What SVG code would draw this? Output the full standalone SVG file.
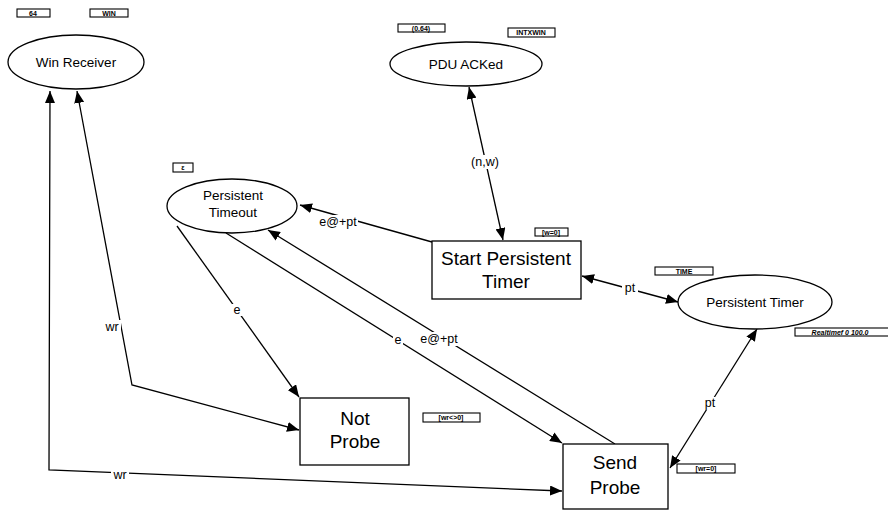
<svg xmlns="http://www.w3.org/2000/svg" width="888" height="511" viewBox="0 0 888 511">
  <style>
    .place { fill: #fff; stroke: #000; stroke-width: 1.3; }
    .trans { fill: #fff; stroke: #000; stroke-width: 1.3; }
    .arc { fill: none; stroke: #000; stroke-width: 1.3; }
    .ptext { font-family: "Liberation Sans", Arial, sans-serif; font-size: 13.5px; fill: #000; text-anchor: middle; }
    .ttext { font-family: "Liberation Sans", Arial, sans-serif; font-size: 19px; fill: #000; text-anchor: middle; }
    .alabel { font-family: "Liberation Sans", Arial, sans-serif; font-size: 12.5px; fill: #000; text-anchor: middle; }
    .lbg { fill: #fff; stroke: none; }
    .tag { fill: #fff; stroke: #000; stroke-width: 1.1; }
    .tagtext { font-family: "Liberation Sans", Arial, sans-serif; font-size: 7px; font-weight: bold; fill: #000; text-anchor: middle; }
  </style>
  <defs>
    <marker id="head" viewBox="0 0 12 10" refX="12" refY="5" markerWidth="12" markerHeight="10" markerUnits="userSpaceOnUse" orient="auto-start-reverse">
      <path d="M0,0 L12,5 L0,10 Z" fill="#000"/>
    </marker>
  </defs>

  <rect width="888" height="511" fill="#fff"/>

  <!-- connectors -->
  <g id="arcs">
    <path class="arc" d="M77,91 L132,385 L299,430" marker-start="url(#head)" marker-end="url(#head)"/>
    <path class="arc" d="M50,91 L49,470 L562,491" marker-start="url(#head)" marker-end="url(#head)"/>
    <path class="arc" d="M503,240 L469,87" marker-start="url(#head)" marker-end="url(#head)"/>
    <path class="arc" d="M432,242 L300,205" marker-end="url(#head)"/>
    <path class="arc" d="M582,276 L678,302" marker-start="url(#head)" marker-end="url(#head)"/>
    <path class="arc" d="M177,226 L299,397" marker-end="url(#head)"/>
    <path class="arc" d="M226,233 L562,443" marker-end="url(#head)"/>
    <path class="arc" d="M615,444 L268,230" marker-end="url(#head)"/>
    <path class="arc" d="M670,468 L757,329" marker-start="url(#head)" marker-end="url(#head)"/>

    <!-- arc inscriptions -->
    <rect class="lbg" x="103" y="320" width="18" height="13"/>
    <text class="alabel" x="112" y="331">wr</text>
    <rect class="lbg" x="111" y="468" width="18" height="13"/>
    <text class="alabel" x="120" y="479">wr</text>
    <rect class="lbg" x="469" y="155" width="32" height="14"/>
    <text class="alabel" x="485" y="166">(n,w)</text>
    <rect class="lbg" x="318" y="215" width="40" height="14"/>
    <text class="alabel" x="338" y="226">e@+pt</text>
    <rect class="lbg" x="622" y="282" width="16" height="13"/>
    <text class="alabel" x="630" y="292">pt</text>
    <rect class="lbg" x="232" y="304" width="10" height="12"/>
    <text class="alabel" x="237" y="314">e</text>
    <rect class="lbg" x="393" y="334" width="10" height="12"/>
    <text class="alabel" x="398" y="344">e</text>
    <rect class="lbg" x="418" y="332" width="42" height="14"/>
    <text class="alabel" x="439" y="343">e@+pt</text>
    <rect class="lbg" x="702" y="397" width="16" height="13"/>
    <text class="alabel" x="710" y="407">pt</text>
  </g>

  <!-- places -->
  <g id="win-receiver">
    <ellipse class="place" cx="76" cy="62" rx="68" ry="27"/>
    <text class="ptext" x="76" y="67">Win Receiver</text>
    <rect class="tag" x="17" y="9" width="33" height="8"/>
    <text class="tagtext" x="33" y="16">64</text>
    <rect class="tag" x="90" y="9" width="38" height="8"/>
    <text class="tagtext" x="109" y="16">WIN</text>
  </g>

  <g id="pdu-acked">
    <ellipse class="place" cx="466" cy="64" rx="76" ry="22"/>
    <text class="ptext" x="466" y="69">PDU ACKed</text>
    <rect class="tag" x="398" y="24" width="47" height="8"/>
    <text class="tagtext" x="421" y="31">(0.64)</text>
    <rect class="tag" x="508" y="28" width="47" height="9"/>
    <text class="tagtext" x="531" y="35">INTXWIN</text>
  </g>

  <g id="persistent-timeout">
    <ellipse class="place" cx="232" cy="206" rx="65" ry="27"/>
    <text class="ptext" x="233" y="200">Persistent</text>
    <text class="ptext" x="233" y="217">Timeout</text>
    <rect class="tag" x="173" y="163" width="20" height="9"/>
    <text class="tagtext" x="183" y="170">ε</text>
  </g>

  <g id="persistent-timer">
    <ellipse class="place" cx="755" cy="302" rx="77" ry="27"/>
    <text class="ptext" x="755" y="307">Persistent Timer</text>
    <rect class="tag" x="655" y="267" width="58" height="8"/>
    <text class="tagtext" x="684" y="274">TIME</text>
    <rect class="tag" x="795" y="328" width="95" height="8"/>
    <text class="tagtext" x="840" y="335" font-style="italic">Realtimef 0 100.0</text>
  </g>

  <!-- transitions -->
  <g id="start-persistent-timer">
    <rect class="trans" x="432" y="241" width="149" height="58"/>
    <text class="ttext" x="506" y="265">Start Persistent</text>
    <text class="ttext" x="506" y="288">Timer</text>
    <rect class="tag" x="535" y="228" width="33" height="8"/>
    <text class="tagtext" x="551" y="235">[w=0]</text>
  </g>

  <g id="not-probe">
    <rect class="trans" x="300" y="398" width="109" height="67"/>
    <text class="ttext" x="355" y="425">Not</text>
    <text class="ttext" x="355" y="448">Probe</text>
    <rect class="tag" x="423" y="413" width="57" height="9"/>
    <text class="tagtext" x="451" y="420">[wr&lt;&gt;0]</text>
  </g>

  <g id="send-probe">
    <rect class="trans" x="563" y="444" width="105" height="65"/>
    <text class="ttext" x="615" y="469">Send</text>
    <text class="ttext" x="615" y="494">Probe</text>
    <rect class="tag" x="677" y="464" width="58" height="9"/>
    <text class="tagtext" x="706" y="471">[wr=0]</text>
  </g>
</svg>
